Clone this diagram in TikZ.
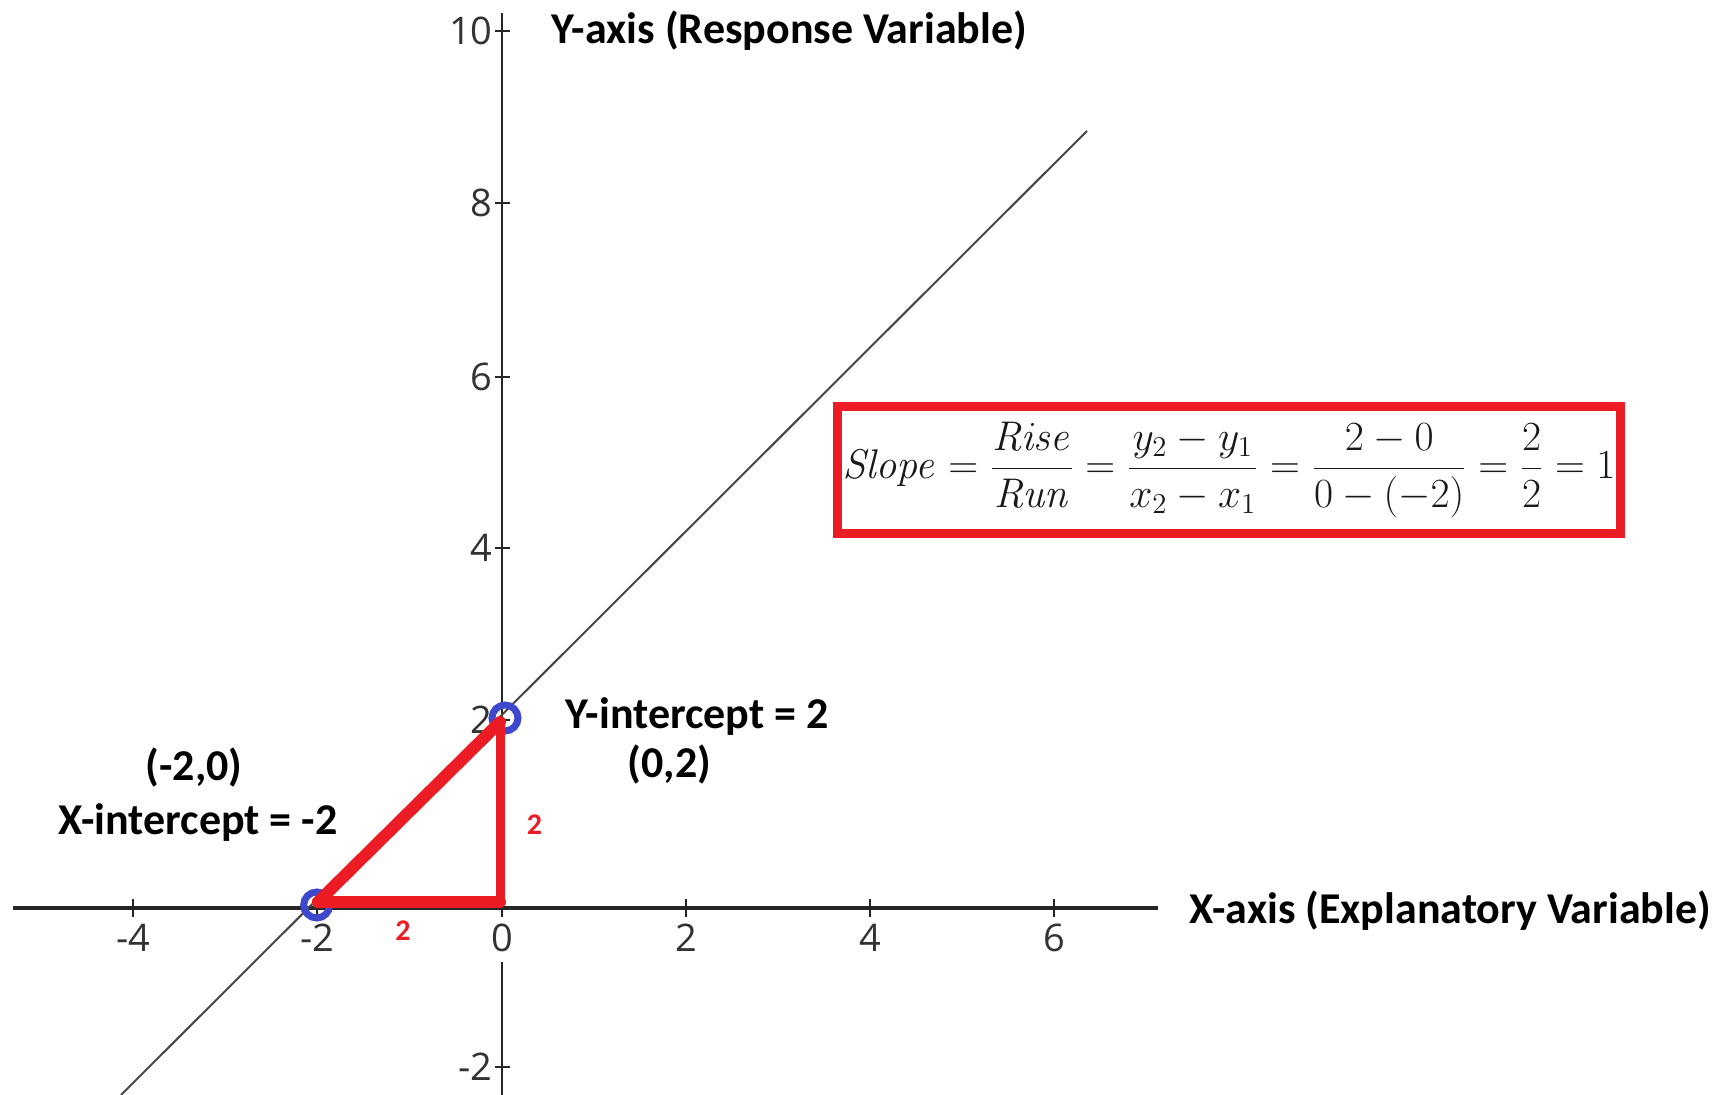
\documentclass[tikz,border=0pt]{standalone}
\usepackage[no-math]{fontspec}
\setmainfont{Carlito}
\newfontfamily\tickfont{Open Sans}
\definecolor{myred}{RGB}{236,28,36}
\definecolor{myblue}{RGB}{62,72,204}
\definecolor{linegray}{RGB}{70,70,70}
\begin{document}
\begin{tikzpicture}[x=0.5pt,y=-0.5pt,
  lbl/.style={font=\fontsize{22}{26}\selectfont\bfseries, text=black, inner sep=0pt},
  ticklbl/.style={font=\tickfont\fontsize{19}{22}\selectfont, text=black!80, inner sep=0pt},
  redlbl/.style={font=\fontsize{15}{17}\selectfont\bfseries, text=myred, inner sep=0pt},
  xaxisline/.style={line width=1.8pt, black!85},
  yaxisline/.style={line width=1.4pt, black!85},
  tickline/.style={line width=0.8pt, black!85},
  diagline/.style={line width=1pt, linegray},
  redthick/.style={line width=6pt, myred, line cap=round},
  redthin/.style={line width=4.5pt, myred, line cap=round},
  ptmark/.style={circle, draw=myblue, line width=3.5pt, minimum size=13pt, inner sep=0pt},
  fbox/.style={draw=myred, line width=4.5pt, minimum width=391.25pt, minimum height=63.75pt, inner sep=0pt, text=black!90, font=\fontsize{22}{26}\selectfont}
]
\useasboundingbox (0,0) rectangle (1721,1095);
\fill[white] (0,0) rectangle (1721,1095);

% axes
\coordinate (xl) at (13,908);
\coordinate (xr) at (1158,908);
\coordinate (yt) at (502,13);
\coordinate (yb1) at (502,908);
\coordinate (yb2) at (502,962);
\coordinate (ybot) at (502,1095);
\draw[xaxisline] (xl) -- (xr);
\draw[yaxisline] (yt) -- (yb1);
\draw[yaxisline] (yb2) -- (ybot);

% x ticks
\foreach \x/\l/\n in {133/-4/1,317/-2/2,502/0/3,686/2/4,870/4/5,1054/6/6}{
  \draw[tickline] (\x,899) -- (\x,917);
  \node[ticklbl] (xt\n) at (\x,938) {\l};
}
% y ticks
\foreach \y/\l/\n in {31/10/1,203/8/2,377/6/3,548/4/4,720/2/5,1067/-2/6}{
  \draw[tickline] (495,\y) -- (510,\y);
  \node[ticklbl, anchor=east] (yt\n) at (493,\y) {\l};
}

% line y = x + 2
\coordinate (dl) at (121,1095);
\coordinate (du) at (1087,131);
\draw[diagline] (dl) -- (du);

% intercept points
\node[ptmark] (pa) at (316.7,905) {};
\node[ptmark] (pb) at (505,718) {};

% rise/run triangle
\coordinate (ta) at (318,902);
\coordinate (tb) at (500,722);
\coordinate (tc) at (500,902);
\draw[redthick] (ta) -- (tb);
\draw[redthin] (tb) -- (tc);
\draw[redthick] (tc) -- (ta);

% labels
\node[lbl, anchor=west] (ylab) at (551,31) {Y-axis (Response Variable)};
\node[lbl, anchor=west] (xlab) at (1189,911) {X-axis (Explanatory Variable)};
\node[lbl, anchor=west] (yint) at (565,717) {Y-intercept = 2};
\node[lbl] (p02) at (669.5,765) {(0,2)};
\node[lbl] (pm20) at (194,768) {(-2,0)};
\node[lbl, anchor=west] (xint) at (58,823) {X-intercept = -2};
\node[redlbl] (rise) at (534.5,825) {2};
\node[redlbl] (run) at (403,931) {2};

% slope formula
\node[fbox] (formula) at (1229,470) {$\displaystyle \mathit{Slope}=\frac{\mathit{Rise}}{\mathit{Run}}=\frac{y_2-y_1}{x_2-x_1}=\frac{2-0}{0-(-2)}=\frac{2}{2}=1$};
\end{tikzpicture}
\end{document}
